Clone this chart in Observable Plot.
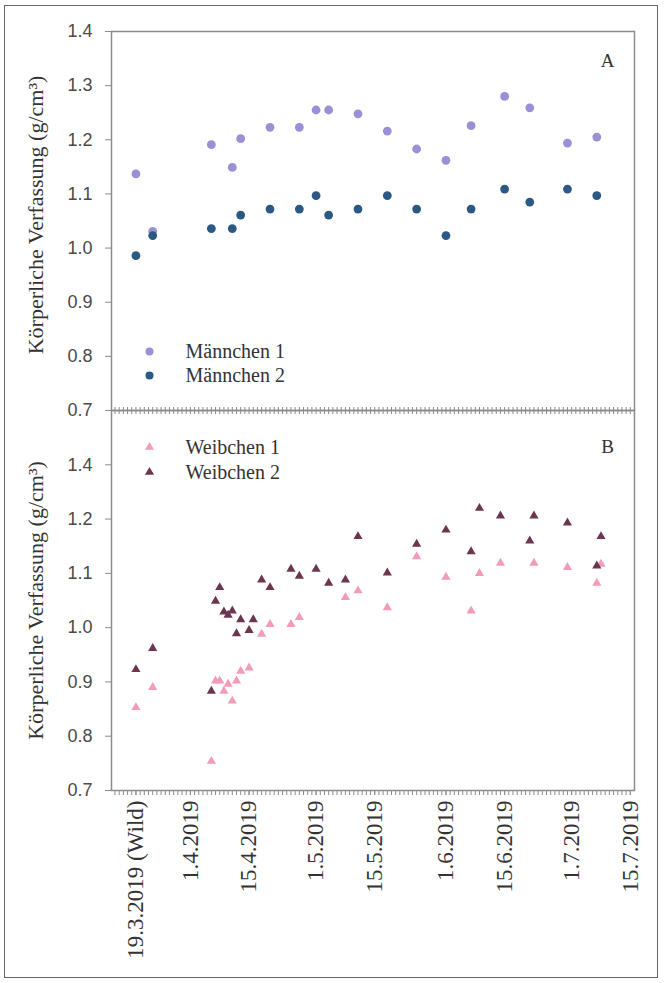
<!DOCTYPE html>
<html><head><meta charset="utf-8">
<script src="https://cdn.jsdelivr.net/npm/d3@7"></script>
<script src="https://cdn.jsdelivr.net/npm/@observablehq/plot@0.6"></script>
<style>
body{margin:0;background:#fff;}
#wrap{position:relative;width:665px;height:983px;overflow:hidden;background:#fff;}
#border{position:absolute;left:4px;top:5px;width:654px;height:973px;border:1px solid #666;box-sizing:border-box;}
#wrap svg{position:absolute;left:0;top:0;}
#wrap svg .xlabels text{font-family:"Liberation Serif",serif;}
</style></head><body><div id="wrap"><div id="border"></div></div>
<script>
// ---- data ----
const maleDates = ["2019-03-19","2019-03-23","2019-04-06","2019-04-11","2019-04-13","2019-04-20","2019-04-27","2019-05-01","2019-05-04","2019-05-11","2019-05-18","2019-05-25","2019-06-01","2019-06-07","2019-06-15","2019-06-21","2019-06-30","2019-07-07"];
const male1 = [1.137,1.031,1.191,1.149,1.202,1.223,1.223,1.255,1.255,1.248,1.216,1.183,1.162,1.226,1.280,1.259,1.194,1.205];
const male2 = [0.986,1.023,1.036,1.036,1.061,1.072,1.072,1.097,1.061,1.072,1.097,1.072,1.023,1.072,1.109,1.085,1.109,1.097];

const female1Dates = ["2019-03-19","2019-03-23","2019-04-06","2019-04-07","2019-04-08","2019-04-09","2019-04-10","2019-04-11","2019-04-12","2019-04-13","2019-04-15","2019-04-18","2019-04-20","2019-04-25","2019-04-27","2019-05-08","2019-05-11","2019-05-18","2019-05-25","2019-06-01","2019-06-07","2019-06-09","2019-06-14","2019-06-22","2019-06-30","2019-07-07","2019-07-08"];
const female1 = [0.853,0.890,0.754,0.902,0.902,0.883,0.896,0.865,0.902,0.920,0.926,0.988,1.006,1.006,1.019,1.056,1.068,1.037,1.131,1.093,1.031,1.100,1.119,1.119,1.111,1.082,1.117];

const female2Dates = ["2019-03-19","2019-03-23","2019-04-06","2019-04-07","2019-04-08","2019-04-09","2019-04-10","2019-04-11","2019-04-12","2019-04-13","2019-04-15","2019-04-16","2019-04-18","2019-04-20","2019-04-25","2019-04-27","2019-05-01","2019-05-04","2019-05-08","2019-05-11","2019-05-18","2019-05-25","2019-06-01","2019-06-07","2019-06-09","2019-06-14","2019-06-21","2019-06-22","2019-06-30","2019-07-07","2019-07-08"];
const female2 = [0.923,0.962,0.883,1.049,1.074,1.029,1.023,1.031,0.989,1.015,0.995,1.015,1.088,1.074,1.108,1.095,1.108,1.082,1.088,1.168,1.101,1.154,1.180,1.140,1.220,1.206,1.160,1.206,1.193,1.114,1.168];

const seriesNames = ["Männchen 1","Männchen 2","Weibchen 1","Weibchen 2"];
const panelLabels = ["A","B"];
const yTitle = "Körperliche Verfassung (g/cm³)";

const xTickDates = ["2019-03-19","2019-04-01","2019-04-15","2019-05-01","2019-05-15","2019-06-01","2019-06-15","2019-07-01","2019-07-15"];
const xTickLabels = ["19.3.2019 (Wild)","1.4.2019","15.4.2019","1.5.2019","15.5.2019","1.6.2019","15.6.2019","1.7.2019","15.7.2019"];
const yTicksTop = [0.7,0.8,0.9,1.0,1.1,1.2,1.3,1.4];
const yLabelsTop = ["0.7","0.8","0.9","1.0","1.1","1.2","1.3","1.4"];
const yTicksBottom = [0.7,0.8,0.9,1.0,1.1,1.2,1.3];
const yLabelsBottom = ["0.7","0.8","0.9","1.0","1.1","1.2","1.4"];

// ---- build ----
const P = s => new Date(s + (s.length === 10 ? "T00:00Z" : "Z"));
const xDomain = [P("2019-03-13T04:00"), P("2019-07-16T00:00")];
const days = d3.utcDay.range(xDomain[0], xDomain[1]);
const rows = (dates, vals, s) => dates.map((d, i) => ({date: P(d), value: vals[i], series: s}));
const m1 = rows(maleDates, male1, seriesNames[0]);
const m2 = rows(maleDates, male2, seriesNames[1]);
const f1 = rows(female1Dates, female1, seriesNames[2]);
const f2 = rows(female2Dates, female2, seriesNames[3]);
const colors = {"Männchen 1": "#9a90d4", "Männchen 2": "#2b5983", "Weibchen 1": "#f39bb9", "Weibchen 2": "#6c3650"};

const AX = "#8c8c8c", TXT = "#333", SERIF = "Liberation Serif", SANS = "Liberation Sans";
const W = 665, ML = 111, MR = 31;

const common = (mt, mb, height) => ({
  width: W, height, marginLeft: ML, marginRight: MR, marginTop: mt, marginBottom: mb,
  style: {background: "none", fontFamily: SANS, overflow: "visible"},
  x: {type: "utc", domain: xDomain},
  y: {domain: [0.7, 1.4]}
});

const yAxis = (ticks, labels) => Plot.axisY({ticks, tickFormat: (d, i) => labels[i], tickSize: 6, tickPadding: 13,
  fontSize: 18, fontFamily: SANS, stroke: AX, fill: "#4a4a4a", label: null});
const title = (dy) => Plot.text([yTitle], {text: d => d, frameAnchor: "left", textAnchor: "middle", dx: -76, dy, rotate: -90,
  fontSize: 22, fontFamily: SERIF, fill: TXT});
const legendItem = (name, symbol, r, dy) => [
  Plot.dot([name], {frameAnchor: "top-left", dx: 38, dy, symbol, r, fill: colors[name], stroke: "none"}),
  Plot.text([name], {text: d => d, frameAnchor: "top-left", dx: 74, dy, textAnchor: "start", lineAnchor: "middle",
    fontSize: 20, fontFamily: SERIF, fill: TXT})
];
const panelLabel = (t, dy) => Plot.text([t], {text: d => d, frameAnchor: "top-right", dx: -27, dy,
  textAnchor: "middle", lineAnchor: "middle", fontSize: 19, fontFamily: SERIF, fill: TXT});

// top panel
const plotTop = Plot.plot({
  ...common(31, 1, 411),
  marks: [
    Plot.axisX({ticks: days, tickFormat: () => "", tickSize: 4, stroke: AX, label: null}),
    yAxis(yTicksTop, yLabelsTop),
    Plot.frame({stroke: AX, strokeWidth: 1.5}),
    Plot.dot(m1, {x: "date", y: "value", r: 4.4, fill: colors["Männchen 1"], stroke: "none"}),
    Plot.dot(m2, {x: "date", y: "value", r: 4.4, fill: colors["Männchen 2"], stroke: "none"}),
    title(-6),
    ...legendItem(seriesNames[0], "circle", 4, 320),
    ...legendItem(seriesNames[1], "circle", 4, 344),
    panelLabel(panelLabels[0], 29)
  ]
});

// bottom panel
const plotBottom = Plot.plot({
  ...common(410, 193, 983),
  marks: [
    Plot.axisX({anchor: "top", ticks: days, tickFormat: () => "", tickSize: 4, stroke: AX, label: null}),
    Plot.axisX({ticks: days, tickFormat: () => "", tickSize: 5, stroke: AX, label: null}),
    Plot.axisX({ticks: xTickDates.map(P), tickFormat: (d, i) => xTickLabels[i], tickRotate: -90, tickSize: 5, tickPadding: 5,
      fontSize: 23, fontFamily: SERIF, stroke: AX, fill: TXT, label: null, className: "xlabels"}),
    yAxis(yTicksBottom, yLabelsBottom),
    Plot.frame({stroke: AX, strokeWidth: 1.5}),
    Plot.dot(f1, {x: "date", y: "value", symbol: "triangle", r: 3.4, fill: colors["Weibchen 1"], stroke: "none"}),
    Plot.dot(f2, {x: "date", y: "value", symbol: "triangle", r: 3.4, fill: colors["Weibchen 2"], stroke: "none"}),
    title(0),
    ...legendItem(seriesNames[2], "triangle", 3.4, 36.7),
    ...legendItem(seriesNames[3], "triangle", 3.4, 61.7),
    panelLabel(panelLabels[1], 36.7)
  ]
});

const wrap = document.getElementById("wrap");
wrap.appendChild(plotTop);
wrap.appendChild(plotBottom);
// make sure the date labels use the serif face
plotBottom.querySelectorAll('g[aria-label="x-axis tick label"] text').forEach(t => t.setAttribute("font-family", SERIF));
plotBottom.querySelectorAll('g[aria-label="x-axis tick label"]').forEach(g => g.setAttribute("font-family", SERIF));
</script>
</body></html>
